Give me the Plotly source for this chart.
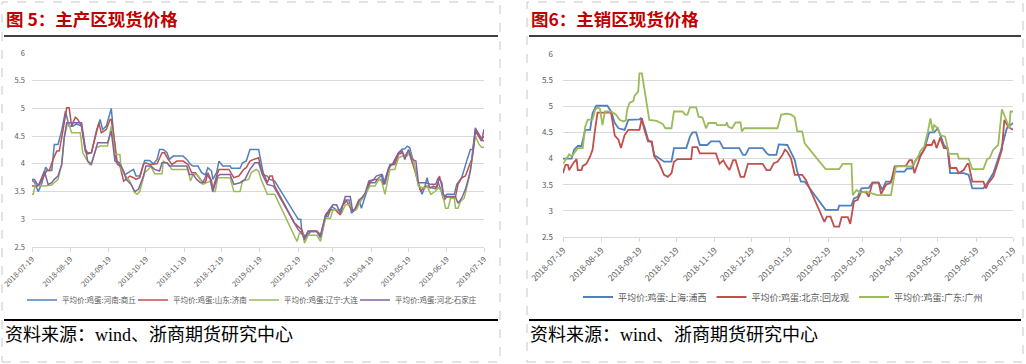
import pandas as pd
import plotly.graph_objects as go

START = "2018-07-19"
END = "2019-07-19"
TICK_DATES = ["2018-07-19", "2018-08-19", "2018-09-19", "2018-10-19", "2018-11-19",
              "2018-12-19", "2019-01-19", "2019-02-19", "2019-03-19", "2019-04-19",
              "2019-05-19", "2019-06-19", "2019-07-19"]
Y_TICKS = [2.5, 3, 3.5, 4, 4.5, 5, 5.5, 6]
Y_TICK_TEXT = ["2.5", "3", "3.5", "4", "4.5", "5", "5.5", "6"]

TITLE_LEFT = "图 5：主产区现货价格"
TITLE_RIGHT = "图6：主销区现货价格"
SOURCE = "资料来源：wind、浙商期货研究中心"

# (days since 2018-07-19, price yuan/jin)
HENAN_SHANGQIU = [(0,3.70),(2,3.67),(5,3.50),(8,3.65),(11,3.94),(13,3.88),(16,3.88),(18,4.35),(21,4.35),(24,4.60),(27,4.95),(30,4.68),(33,4.68),(36,4.72),(40,4.68),(43,4.26),(45,4.20),(48,4.20),(52,4.60),(55,4.80),(57,4.62),(60,4.68),(64,5.00),(66,4.53),(68,4.05),(71,4.02),(75,3.80),(79,3.86),(82,3.90),(84,3.78),(87,3.78),(91,4.06),(95,4.06),(98,4.00),(101,4.08),(103,4.26),(106,4.26),(109,4.20),(111,4.08),(114,4.14),(122,4.14),(125,4.08),(128,3.99),(130,3.96),(134,3.96),(137,3.84),(140,3.80),(142,3.93),(145,3.87),(146,3.72),(149,3.84),(151,4.05),(154,3.96),(160,3.96),(161,3.92),(168,3.92),(170,4.02),(173,4.05),(176,4.26),(183,4.26),(185,4.05),(187,3.80),(190,3.78),(192,3.72),(196,3.69),(215,3.00),(217,3.00),(218,2.75),(221,2.69),(223,2.72),(225,2.78),(230,2.78),(233,2.66),(237,3.05),(239,3.05),(242,3.23),(246,3.17),(249,3.17),(253,3.35),(256,3.35),(258,3.11),(261,3.17),(264,3.35),(266,3.20),(269,3.41),(273,3.66),(277,3.66),(280,3.75),(283,3.80),(285,3.63),(289,3.99),(292,3.99),(296,4.20),(299,4.27),(301,4.27),(303,4.32),(305,4.29),(308,4.05),(312,3.63),(315,3.45),(317,3.57),(319,3.75),(321,3.57),(323,3.57),(326,3.55),(328,3.67),(330,3.54),(332,3.38),(335,3.45),(341,3.45),(343,3.63),(347,3.75),(351,4.05),(354,4.26),(356,4.26),(358,4.62),(361,4.53),(363,4.44),(365,4.50)]

SHANDONG_JINAN = [(0,3.60),(4,3.60),(6,3.63),(9,3.75),(12,3.88),(14,3.88),(17,4.08),(20,4.23),(22,4.23),(25,4.60),(28,5.01),(30,5.01),(32,4.68),(35,4.84),(37,4.80),(40,4.68),(43,4.23),(45,4.18),(48,4.20),(52,4.56),(54,4.74),(56,4.56),(60,4.62),(63,4.80),(64,4.80),(67,4.35),(69,3.99),(71,3.96),(74,3.69),(76,3.72),(79,3.78),(82,3.75),(84,3.72),(87,3.75),(90,3.99),(92,4.02),(95,3.99),(101,4.00),(105,4.20),(107,4.20),(110,4.08),(113,3.99),(117,4.05),(122,4.05),(126,3.99),(129,3.84),(132,3.84),(134,3.78),(137,3.69),(140,3.66),(142,3.84),(145,3.69),(146,3.54),(149,3.78),(151,3.90),(159,3.90),(161,3.81),(163,3.75),(167,3.78),(171,3.90),(173,3.93),(176,4.05),(179,4.08),(183,4.11),(185,3.90),(188,3.78),(190,3.66),(192,3.78),(194,3.78),(196,3.60),(212,2.93),(218,2.81),(220,2.66),(223,2.79),(230,2.79),(233,2.72),(237,3.05),(241,3.17),(245,3.17),(249,3.08),(251,3.26),(254,3.33),(258,3.17),(261,3.17),(264,3.29),(266,3.35),(269,3.45),(273,3.68),(277,3.72),(281,3.72),(284,3.63),(288,3.90),(290,3.99),(293,3.99),(296,4.17),(299,4.20),(301,4.14),(304,4.23),(308,3.96),(314,3.50),(316,3.57),(319,3.60),(322,3.57),(324,3.60),(327,3.57),(329,3.78),(331,3.60),(333,3.35),(335,3.41),(342,3.41),(344,3.63),(347,3.75),(350,3.78),(353,3.96),(355,4.08),(358,4.59),(361,4.47),(363,4.41),(365,4.62)]

LIAONING_DALIAN = [(0,3.45),(1,3.45),(3,3.66),(6,3.60),(10,3.60),(16,3.62),(18,3.66),(21,3.72),(24,3.99),(26,4.47),(29,4.77),(32,4.56),(39,4.56),(41,4.20),(44,4.08),(47,3.98),(49,4.08),(52,4.29),(55,4.32),(61,4.32),(64,4.68),(67,4.17),(71,4.17),(72,3.90),(75,3.80),(79,3.69),(83,3.48),(85,3.45),(87,3.50),(91,3.84),(94,3.90),(96,3.96),(99,3.82),(105,3.82),(106,4.05),(110,4.00),(113,3.90),(126,3.90),(128,3.69),(130,3.81),(133,3.81),(136,3.72),(138,3.63),(141,3.66),(144,3.69),(146,3.50),(148,3.50),(150,3.75),(160,3.75),(163,3.50),(168,3.50),(170,3.69),(175,3.72),(177,3.84),(181,3.90),(183,3.87),(185,3.72),(190,3.45),(196,3.45),(214,2.60),(216,2.75),(219,2.72),(220,2.57),(223,2.71),(230,2.71),(233,2.60),(237,3.02),(241,3.02),(243,3.17),(247,3.17),(250,3.11),(253,3.26),(257,3.26),(259,3.17),(262,3.17),(265,3.32),(269,3.45),(273,3.60),(277,3.60),(280,3.72),(282,3.72),(285,3.45),(289,3.90),(293,3.90),(296,4.11),(299,4.14),(303,4.14),(305,4.23),(308,4.05),(312,3.60),(315,3.57),(318,3.57),(319,3.60),(322,3.45),(326,3.51),(328,3.57),(331,3.51),(334,3.20),(336,3.20),(338,3.38),(341,3.38),(342,3.20),(344,3.20),(346,3.32),(349,3.38),(353,3.75),(355,4.05),(358,4.50),(361,4.35),(363,4.30),(365,4.30)]

HEBEI_SHIJIAZHUANG = [(0,3.72),(2,3.72),(5,3.60),(8,3.75),(10,3.87),(13,3.63),(16,3.66),(18,3.72),(21,3.78),(24,3.99),(26,4.47),(28,4.74),(40,4.74),(43,4.29),(45,4.05),(48,3.99),(51,4.23),(53,4.38),(61,4.38),(64,4.59),(67,4.05),(71,3.99),(74,3.87),(76,3.72),(80,3.63),(83,3.50),(86,3.54),(90,3.78),(92,3.96),(96,3.96),(99,3.90),(103,3.87),(105,4.02),(109,4.02),(111,3.96),(125,3.96),(127,3.81),(130,3.81),(133,3.72),(136,3.66),(138,3.66),(141,3.81),(144,3.72),(146,3.50),(150,3.78),(152,3.81),(160,3.81),(163,3.63),(168,3.66),(172,3.72),(176,3.90),(180,4.02),(183,4.02),(186,3.81),(190,3.63),(195,3.60),(215,2.81),(218,2.75),(220,2.63),(223,2.78),(230,2.78),(233,2.69),(237,3.08),(239,3.14),(243,3.26),(246,3.26),(249,3.11),(253,3.41),(257,3.41),(259,3.14),(261,3.20),(264,3.35),(266,3.38),(269,3.47),(272,3.69),(276,3.72),(278,3.78),(282,3.81),(284,3.63),(288,3.93),(291,3.99),(293,4.08),(296,4.20),(299,4.23),(301,4.08),(304,4.26),(307,4.08),(310,4.05),(312,3.66),(318,3.66),(322,3.63),(326,3.63),(328,3.75),(331,3.66),(332,3.45),(335,3.40),(342,3.40),(344,3.29),(347,3.38),(350,3.54),(354,3.87),(357,4.35),(358,4.65),(361,4.53),(363,4.44),(365,4.41)]

SHANGHAI_PUXI = [(0,4.00),(7,4.00),(9,4.17),(12,4.24),(15,4.24),(18,4.55),(22,4.55),(24,4.87),(27,5.01),(36,5.01),(39,4.90),(42,4.68),(45,4.58),(49,4.55),(50,4.55),(53,4.74),(62,4.75),(63,4.77),(66,4.61),(69,4.36),(72,4.30),(74,4.07),(78,4.01),(82,3.94),(88,3.94),(90,4.20),(100,4.20),(103,4.42),(105,4.50),(108,4.50),(111,4.26),(117,4.26),(120,4.33),(127,4.33),(130,4.20),(143,4.20),(146,4.07),(148,4.07),(151,4.20),(162,4.20),(165,4.11),(167,4.07),(173,4.07),(175,4.27),(182,4.26),(185,4.10),(188,3.97),(190,3.75),(193,3.56),(196,3.56),(198,3.50),(213,3.02),(223,3.02),(224,3.10),(234,3.10),(236,3.24),(239,3.27),(242,3.43),(248,3.44),(251,3.54),(256,3.54),(259,3.40),(262,3.56),(266,3.56),(269,3.75),(277,3.75),(279,3.81),(283,3.81),(286,3.97),(290,4.07),(293,4.17),(297,4.50),(301,4.50),(304,4.58),(306,4.45),(309,4.26),(312,4.17),(314,3.72),(325,3.72),(329,3.69),(332,3.43),(341,3.43),(344,3.53),(349,3.72),(355,4.14),(358,4.39),(360,4.58),(363,4.64),(365,4.68)]

BEIJING_HUILONGGUAN = [(0,3.72),(2,3.88),(4,3.88),(5,3.78),(8,3.90),(11,3.99),(12,3.78),(15,3.78),(16,3.86),(19,3.90),(22,4.04),(24,4.17),(26,4.55),(28,4.88),(39,4.88),(42,4.44),(45,4.36),(47,4.20),(50,4.45),(53,4.55),(62,4.55),(64,4.77),(66,4.55),(69,4.33),(72,4.33),(74,4.04),(78,3.91),(82,3.69),(85,3.65),(88,3.72),(90,3.94),(93,3.99),(104,3.99),(105,4.22),(109,4.22),(111,4.10),(124,4.10),(127,3.90),(130,3.97),(132,3.88),(135,3.78),(138,3.97),(140,3.97),(144,3.65),(147,3.65),(150,3.90),(162,3.90),(165,3.78),(168,3.78),(171,3.91),(174,3.94),(178,4.07),(180,4.17),(182,4.13),(185,4.00),(188,3.69),(194,3.69),(197,3.59),(212,2.79),(214,2.89),(217,2.89),(220,2.70),(224,2.70),(226,2.88),(231,2.88),(233,2.75),(236,3.18),(239,3.21),(242,3.37),(246,3.35),(248,3.27),(251,3.54),(256,3.54),(258,3.32),(262,3.50),(266,3.54),(269,3.85),(278,3.86),(281,3.97),(283,3.97),(285,3.72),(288,3.94),(290,4.05),(295,4.26),(299,4.26),(301,4.36),(303,4.20),(306,4.40),(309,4.20),(312,4.20),(314,3.82),(319,3.82),(321,3.72),(325,3.78),(328,3.90),(329,3.90),(332,3.56),(341,3.56),(343,3.43),(345,3.53),(349,3.65),(353,3.94),(356,4.17),(358,4.74),(361,4.61),(365,4.55)]

GUANGDONG_GUANGZHOU = [(0,3.90),(2,3.97),(5,4.08),(7,4.04),(9,4.11),(12,4.20),(16,4.20),(18,4.61),(20,4.74),(24,4.75),(26,4.93),(28,4.98),(30,4.95),(32,4.64),(34,4.90),(39,4.90),(43,4.84),(46,4.74),(49,4.71),(51,4.73),(52,4.93),(54,5.07),(57,5.10),(58,5.20),(61,5.28),(62,5.63),(64,5.63),(67,5.15),(70,4.74),(76,4.72),(81,4.66),(83,4.58),(88,4.58),(90,4.90),(97,4.90),(99,4.84),(101,4.84),(103,4.98),(108,4.98),(110,4.80),(113,4.79),(116,4.58),(118,4.68),(124,4.68),(125,4.64),(132,4.64),(133,4.69),(134,4.61),(137,4.58),(140,4.69),(144,4.69),(145,4.52),(147,4.58),(174,4.58),(177,4.84),(182,4.86),(185,4.84),(188,4.79),(190,4.52),(194,4.52),(196,4.29),(213,3.80),(224,3.80),(227,3.90),(234,3.90),(235,3.30),(238,3.40),(241,3.35),(246,3.37),(251,3.33),(255,3.30),(266,3.30),(270,3.85),(283,3.85),(288,4.04),(290,4.15),(293,4.23),(296,4.52),(298,4.77),(300,4.52),(301,4.64),(304,4.58),(306,4.45),(310,4.42),(313,4.09),(320,4.09),(321,4.00),(329,4.00),(332,3.80),(341,3.80),(344,3.99),(346,4.01),(349,4.17),(353,4.26),(356,4.94),(360,4.71),(362,4.58),(363,4.90),(365,4.90)]

# (legend label, data, colour, legend id)
LEFT_SERIES = [
    ("平均价:鸡蛋:河南:商丘", HENAN_SHANGQIU, "#4F81BD", "legend"),
    ("平均价:鸡蛋:山东:济南", SHANDONG_JINAN, "#C0504D", "legend3"),
    ("平均价:鸡蛋:辽宁:大连", LIAONING_DALIAN, "#9BBB59", "legend4"),
    ("平均价:鸡蛋:河北:石家庄", HEBEI_SHIJIAZHUANG, "#8064A2", "legend5"),
]
RIGHT_SERIES = [
    ("平均价:鸡蛋:上海:浦西", SHANGHAI_PUXI, "#4F81BD", "legend2"),
    ("平均价:鸡蛋:北京:回龙观", BEIJING_HUILONGGUAN, "#C0504D", "legend2"),
    ("平均价:鸡蛋:广东:广州", GUANGDONG_GUANGZHOU, "#9BBB59", "legend2"),
]

W, H = 1026, 364
FONT = "Noto Sans CJK SC"
GREY = "#595959"


def px(x):
    return x / W


def py(y):
    return 1 - y / H


def unpack(pairs):
    start = pd.Timestamp(START)
    d = [start + pd.Timedelta(days=p[0]) for p in pairs]
    v = [p[1] for p in pairs]
    return d, v


fig = go.Figure()
for name, data, color, leg in LEFT_SERIES:
    d, v = unpack(data)
    fig.add_trace(go.Scatter(x=d, y=v, mode="lines", name=name,
                             line=dict(color=color, width=1.5),
                             xaxis="x", yaxis="y", legend=leg))
for name, data, color, leg in RIGHT_SERIES:
    d, v = unpack(data)
    fig.add_trace(go.Scatter(x=d, y=v, mode="lines", name=name,
                             line=dict(color=color, width=1.8),
                             xaxis="x2", yaxis="y2", legend=leg))


def xaxis(domain, anchor, size):
    return dict(domain=domain, anchor=anchor, type="date", automargin=False,
                range=[START, END], tickmode="array",
                tickvals=TICK_DATES, ticktext=TICK_DATES, tickangle=-45,
                tickfont=dict(size=size, color=GREY, family=FONT),
                showgrid=False, zeroline=False, showline=True,
                linecolor="#D9D9D9", linewidth=1, ticks="outside",
                ticklen=4, tickcolor="#D9D9D9")


def yaxis(domain, anchor, size, standoff):
    return dict(domain=domain, anchor=anchor, range=[2.5, 6], automargin=False,
                tickmode="array", tickvals=Y_TICKS, ticktext=Y_TICK_TEXT,
                tickfont=dict(size=size, color=GREY, family=FONT),
                showgrid=True, gridcolor="#D9D9D9", gridwidth=1,
                zeroline=False, showline=False, ticks="",
                ticklabelstandoff=standoff)


shapes = []
for x0, x1 in [(2, 500), (527, 1023)]:
    shapes.append(dict(type="rect", xref="paper", yref="paper",
                       x0=px(x0), x1=px(x1), y0=py(362), y1=py(2),
                       line=dict(color="#C8C8C8", width=1, dash="dash")))
for x0, x1 in [(4, 498), (529, 1021)]:
    shapes.append(dict(type="line", xref="paper", yref="paper",
                       x0=px(x0), x1=px(x1), y0=py(36), y1=py(36),
                       line=dict(color="#000000", width=1.5)))
    shapes.append(dict(type="line", xref="paper", yref="paper",
                       x0=px(x0), x1=px(x1), y0=py(320), y1=py(320),
                       line=dict(color="#000000", width=2)))

annotations = [
    dict(text="<b>" + TITLE_LEFT + "</b>", x=px(4), y=py(18), xref="paper", yref="paper",
         xanchor="left", yanchor="middle", showarrow=False,
         font=dict(size=17.5, color="#C00000", family=FONT)),
    dict(text="<b>" + TITLE_RIGHT + "</b>", x=px(529), y=py(18), xref="paper", yref="paper",
         xanchor="left", yanchor="middle", showarrow=False,
         font=dict(size=17.5, color="#C00000", family=FONT)),
    dict(text=SOURCE, x=px(3), y=py(335), xref="paper", yref="paper",
         xanchor="left", yanchor="middle", showarrow=False,
         font=dict(size=18, color="#000000", family="Liberation Serif, " + FONT)),
    dict(text=SOURCE, x=px(528), y=py(335), xref="paper", yref="paper",
         xanchor="left", yanchor="middle", showarrow=False,
         font=dict(size=18, color="#000000", family="Liberation Serif, " + FONT)),
]


def small_legend(x):
    return dict(orientation="h", x=px(x), y=py(300), xanchor="left", yanchor="middle",
                font=dict(size=7.5, color=GREY, family=FONT),
                bgcolor="rgba(0,0,0,0)", itemwidth=30)


fig.update_layout(
    width=W, height=H, margin=dict(l=0, r=0, t=0, b=0, pad=0, autoexpand=False),
    paper_bgcolor="white", plot_bgcolor="white",
    font=dict(family=FONT, color=GREY),
    xaxis=xaxis([px(32), px(484)], "y", 7.5),
    yaxis=yaxis([py(247), py(53)], "x", 7.5, 6),
    xaxis2=xaxis([px(563), px(1013)], "y2", 8.5),
    yaxis2=yaxis([py(237), py(54)], "x2", 8, 9),
    legend=small_legend(22),
    legend3=small_legend(133),
    legend4=small_legend(244),
    legend5=small_legend(355),
    legend2=dict(orientation="h", x=px(578), y=py(297), xanchor="left", yanchor="middle",
                 font=dict(size=9, color=GREY, family=FONT), bgcolor="rgba(0,0,0,0)",
                 itemwidth=30),
    showlegend=True,
    shapes=shapes,
    annotations=annotations,
)

fig.write_html("out.html", config={"displayModeBar": False},
               post_script="document.body.style.margin='0';document.body.style.overflow='hidden';")
